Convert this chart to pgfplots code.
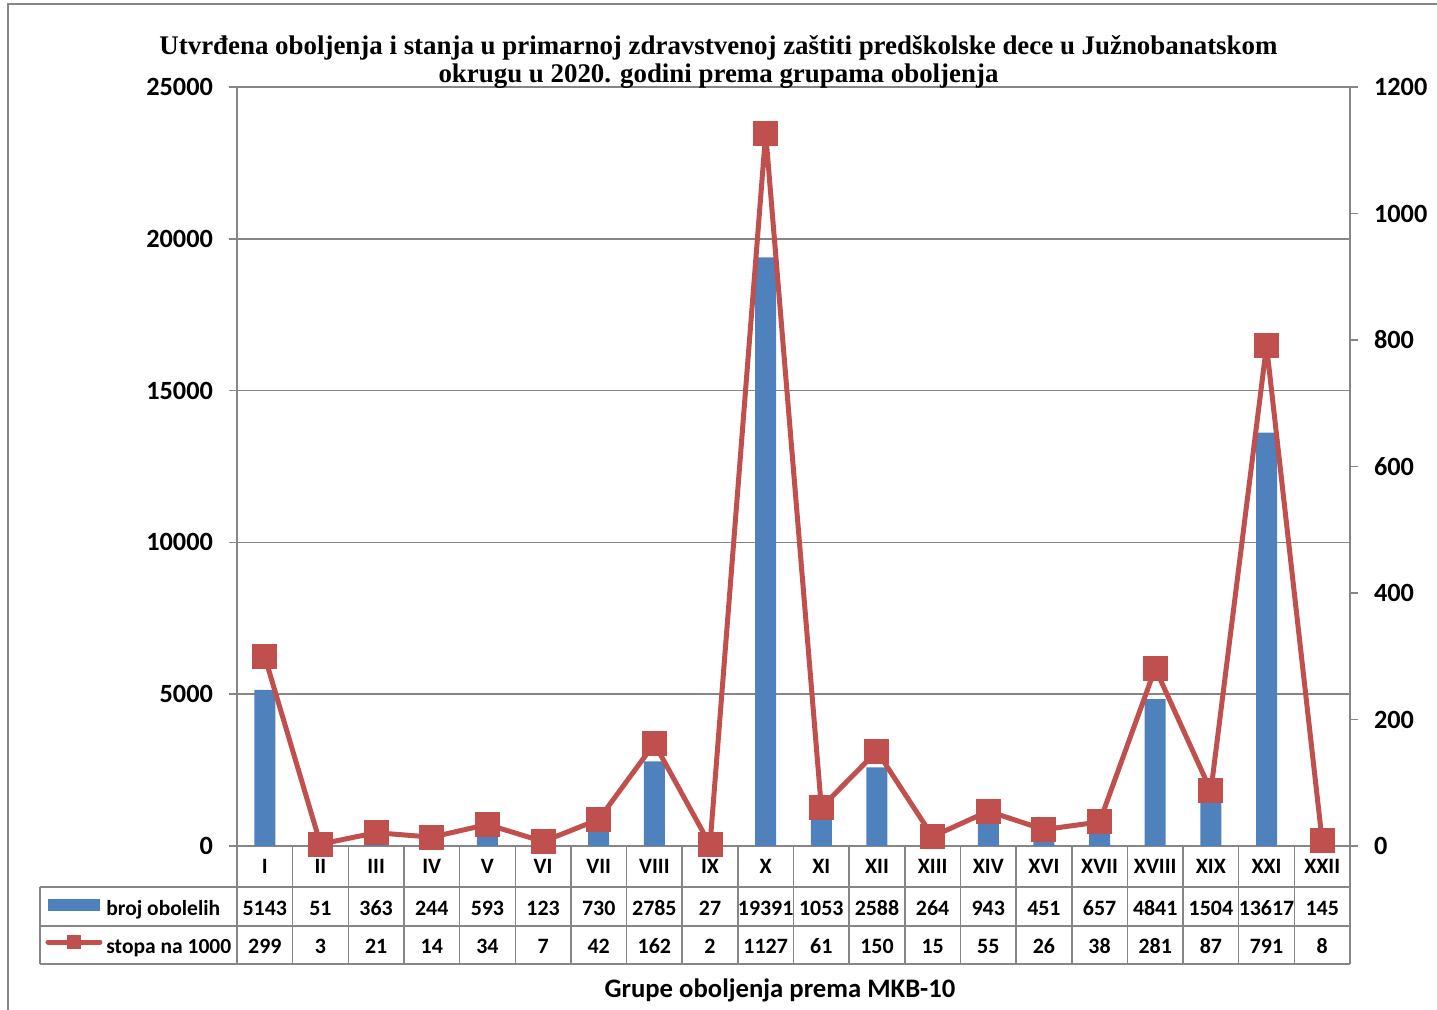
\documentclass[border=0pt]{standalone}
\usepackage{fontspec}
\setmainfont{Carlito}
\newfontfamily\titlefont{Liberation Serif}
\usepackage{pgfplots}
\usepackage{pgfplotstable}
\pgfplotsset{compat=1.18}
\definecolor{barblue}{RGB}{79,129,189}
\definecolor{linered}{RGB}{192,80,77}
\definecolor{axisgray}{RGB}{134,134,134}

\pgfplotstableread{
x grp broj stopa
0 I 5143 299
1 II 51 3
2 III 363 21
3 IV 244 14
4 V 593 34
5 VI 123 7
6 VII 730 42
7 VIII 2785 162
8 IX 27 2
9 X 19391 1127
10 XI 1053 61
11 XII 2588 150
12 XIII 264 15
13 XIV 943 55
14 XVI 451 26
15 XVII 657 38
16 XVIII 4841 281
17 XIX 1504 87
18 XXI 13617 791
19 XXII 145 8
}\datatable

\begin{document}
\begin{tikzpicture}
\path[use as bounding box] (-118.5bp,-82bp) rectangle (600bp,423bp);
% outer frame (cut at right and bottom)
\draw[axisgray, line width=1bp] (-114.5bp,-84bp) -- (-114.5bp,421bp) -- (602bp,421bp);

\pgfplotsset{
  common/.style={
    at={(0,0)}, anchor=south west,
    scale only axis, width=556.5bp, height=379.5bp,
    xmin=-0.5, xmax=19.5,
    ymin=0,
    tick align=outside,
    major tick length=4bp,
    tick style={axisgray, line width=0.75bp},
    axis line style={axisgray, line width=0.75bp},
    scaled y ticks=false,
    /pgf/number format/assume math mode=true,
    /pgf/number format/1000 sep={},
  },
}

\begin{axis}[
  common,
  ymax=25000, ytick={0,5000,...,25000},
  axis x line*=bottom, axis y line*=left,
  xtick=\empty,
  ymajorgrids,
  grid style={axisgray, line width=0.75bp},
  yticklabel style={font=\bfseries\fontsize{13.2}{15}\selectfont, xshift=-4.5bp},
  ybar, bar width=10.5bp, bar shift=0pt,
]
\addplot[fill=barblue, draw=none] table[x=x, y=broj] {\datatable};
\end{axis}

\begin{axis}[
  common,
  ymax=1200, ytick={0,200,...,1200},
  axis y line*=right, axis x line=none,
  yticklabel style={font=\bfseries\fontsize{13.2}{15}\selectfont, xshift=4.5bp},
  clip=false,
]
\addplot[linered, line width=2.5bp, line join=round, mark=square*, mark size=5bp,
  mark options={solid, fill=linered, line join=miter}] table[x=x, y=stopa] {\datatable};
\end{axis}

% data table grid
\draw[axisgray, line width=0.75bp] (-98.5bp,-20.5bp) -- (556.5bp,-20.5bp)
  (-98.5bp,-40bp) -- (556.5bp,-40bp)
  (-98.5bp,-59bp) -- (556.5bp,-59bp)
  (-98.5bp,-20.5bp) -- (-98.5bp,-59bp);
\foreach \k in {0,...,20} {
  \draw[axisgray, line width=0.75bp] ({\k*27.825bp},0) -- ({\k*27.825bp},-59bp);
}
\foreach \i in {0,...,19} {
  \pgfplotstablegetelem{\i}{grp}\of\datatable \let\g\pgfplotsretval
  \pgfplotstablegetelem{\i}{broj}\of\datatable \let\b\pgfplotsretval
  \pgfplotstablegetelem{\i}{stopa}\of\datatable \let\s\pgfplotsretval
  \begin{scope}[every node/.style={anchor=base, inner sep=0pt, font=\bfseries\fontsize{11}{13}\selectfont}]
    \node at ({(\i+0.5)*27.825bp},-13.5bp) {\g};
    \node at ({(\i+0.5)*27.825bp},-34.5bp) {\b};
    \node at ({(\i+0.5)*27.825bp},-53.5bp) {\s};
  \end{scope}
}
% legend keys in the table
\fill[barblue] (-94.5bp,-26.5bp) rectangle (-68.5bp,-32.5bp);
\draw[linered, line width=2.5bp, line cap=round] (-94.5bp,-48bp) -- (-68.5bp,-48bp);
\fill[linered] (-85bp,-51.5bp) rectangle (-78bp,-44.5bp);
\node[anchor=base west, inner sep=0pt, font=\bfseries\fontsize{10.8}{13}\selectfont] at (-65.5bp,-34.5bp) {broj obolelih};
\node[anchor=base west, inner sep=0pt, font=\bfseries\fontsize{10.8}{13}\selectfont] at (-65.5bp,-53.5bp) {stopa na 1000};

% axis title
\node[anchor=base, inner sep=0pt, font=\bfseries\fontsize{13.4}{15}\selectfont] at (271.5bp,-75.5bp) {Grupe oboljenja prema MKB-10};

% chart title
\node[anchor=base, inner sep=0pt, font=\titlefont\bfseries\fontsize{13.5}{15}\selectfont] at (240.75bp,395.5bp)
  {Utvrđena oboljenja i stanja u primarnoj zdravstvenoj zaštiti predškolske dece u Južnobanatskom};
\node[anchor=base, inner sep=0pt, font=\titlefont\bfseries\fontsize{13.5}{15}\selectfont] at (240.75bp,381.5bp)
  {okrugu u 2020. godini prema grupama oboljenja};
\end{tikzpicture}
\end{document}
